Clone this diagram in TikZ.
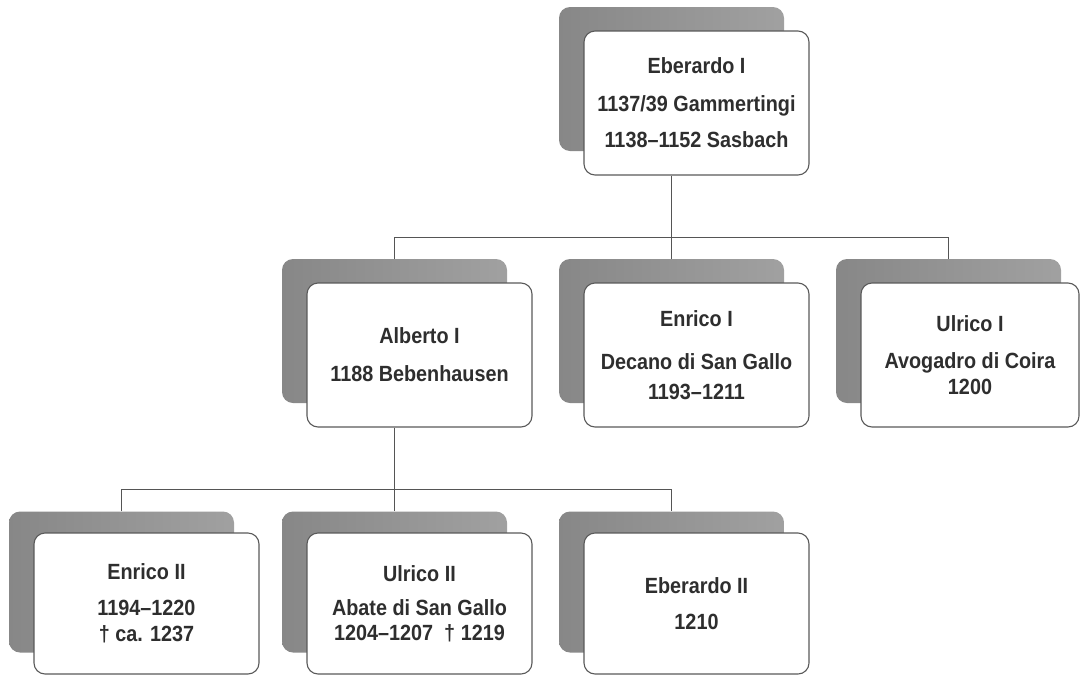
\documentclass[tikz,border=0pt]{standalone}
\usepackage{fontspec}
\setmainfont[FakeStretch=0.9]{Liberation Sans}
\usetikzlibrary{calc}
\definecolor{txt}{HTML}{2E2E2E}
\definecolor{edge}{HTML}{5A5A5A}
\definecolor{wire}{HTML}{555555}
\tikzset{
  backbox/.style={rectangle, rounded corners=11pt, minimum width=225pt, minimum height=#1, inner sep=0pt,
    left color=black!47, right color=black!37, draw=none},
  backbox/.default=144pt,
  frontbox/.style={rectangle, rounded corners=11pt, minimum width=225pt, minimum height=#1, inner sep=0pt,
    fill=white, draw=edge, line width=1.1pt, align=center, text=txt,
    font=\fontsize{22}{24}\selectfont\bfseries},
  frontbox/.default=144pt,
  wire/.style={draw=wire, line width=1pt}
}
\begin{document}
\begin{tikzpicture}[x=1pt,y=-1pt]
\useasboundingbox (0,0) rectangle (1081,675);
\fill[white] (0,0) rectangle (1081,675);
% top
\node[backbox] (b1) at (671.5,79) {};
\node[frontbox] (f1) at (696.5,103) {Eberardo I\\[14pt]1137/39 Gammertingi\\[12pt]1138–1152 Sasbach};
% middle row
\node[backbox] (b2) at (394.5,331) {};
\node[backbox] (b3) at (671.5,331) {};
\node[backbox] (b4) at (948.5,331) {};
% bottom row
\node[backbox=141pt] (b5) at (121.5,582) {};
\node[backbox=141pt] (b6) at (394.5,582) {};
\node[backbox=141pt] (b7) at (671.5,582) {};
% connectors
\coordinate (j1) at ($(b3.north)+(0,-21)$);
\coordinate (j2) at ($(b6.north)+(0,-22)$);
\draw[wire] (b1.south |- f1.south) -- (j1) -- (b3.north);
\draw[wire] (b2.north) |- (j1) -| (b4.north);
% front boxes
\node[frontbox] (f2) at (419.5,355) {Alberto I\\[14pt]1188 Bebenhausen};
\node[frontbox] (f3) at (696.5,355) {Enrico I\\[19pt]Decano di San Gallo\\[6pt]1193–1211};
\node[frontbox, minimum width=218pt] (f4) at (970,355) {Ulrico I\\[13pt]Avogadro di Coira\\[2pt]1200};
\draw[wire] (b2.south |- f2.south) -- (j2) -- (b6.north);
\draw[wire] (b5.north) |- (j2) -| (b7.north);
\node[frontbox=141pt] (f5) at (146.5,603.5) {Enrico II\\[12pt]1194–1220\\[2pt]† ca. 1237};
\node[frontbox=141pt] (f6) at (419.5,603.5) {Ulrico II\\[10pt]Abate di San Gallo\\[1pt]1204–1207 \ † 1219};
\node[frontbox=141pt] (f7) at (696.5,603.5) {Eberardo II\\[12pt]1210};
\end{tikzpicture}
\end{document}
